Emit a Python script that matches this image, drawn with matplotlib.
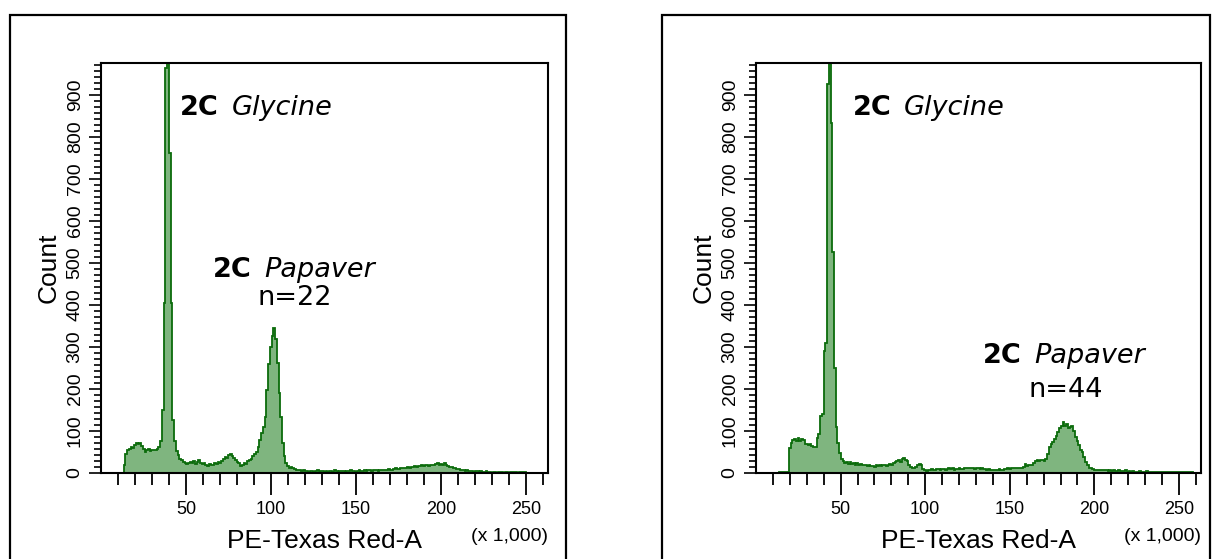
import matplotlib
matplotlib.use("Agg")
import matplotlib.pyplot as plt
import numpy as np
from matplotlib.patches import Rectangle

# histogram: 256 channels over 0..262,144 (axis in x 1,000)
N_BINS = 256
X_MAX = 262.144
Y_MAX = 976

# left sample (Papaver n=22), counts from channel 13 on
left_start = 13
left_counts = [
    20, 45, 55, 58, 62, 60, 66, 72, 70, 72,
    64, 56, 50, 54, 56, 52, 55, 54, 55, 57,
    62, 75, 150, 404, 964, 1320, 762, 404, 125, 75,
    52, 42, 33, 30, 27, 24, 22, 23, 26, 24,
    28, 22, 25, 30, 24, 21, 24, 19, 17, 21,
    18, 20, 24, 22, 26, 24, 28, 34, 38, 36,
    42, 46, 40, 36, 30, 27, 24, 17, 20, 24,
    22, 28, 31, 34, 40, 45, 50, 62, 78, 96,
    110, 134, 198, 260, 300, 325, 344, 318, 262, 190,
    134, 72, 40, 23, 16, 13, 14, 11, 10, 8,
    7, 8, 5, 6, 4, 5, 3, 4, 5, 3,
    4, 6, 3, 4, 5, 3, 4, 3, 5, 4,
    3, 6, 4, 3, 4, 5, 4, 3, 5, 4,
    6, 5, 4, 3, 5, 6, 5, 4, 6, 5,
    7, 6, 5, 8, 6, 7, 5, 6, 8, 7,
    6, 7, 9, 8, 7, 9, 11, 10, 9, 12,
    11, 13, 12, 14, 13, 15, 14, 16, 15, 17,
    16, 18, 17, 19, 18, 17, 20, 19, 18, 22,
    24, 20, 21, 19, 24, 18, 17, 15, 14, 12,
    11, 10, 9, 8, 7, 6, 5, 6, 4, 5,
    4, 3, 5, 4, 3, 4, 3, 3, 4, 3,
    2, 0, 3, 2, 0, 2, 3, 2, 0, 2,
    3, 0, 2, 2, 3, 2, 0, 2, 3, 2,
    2,
]

# right sample (Papaver n=44), counts from channel 13 on
right_start = 13
right_counts = [
    3, 3, 3, 3, 3, 3, 60, 72, 78, 82,
    76, 84, 75, 80, 78, 70, 68, 66, 70, 64,
    62, 62, 84, 92, 136, 140, 290, 310, 925, 1320,
    834, 525, 251, 110, 72, 48, 34, 28, 24, 25,
    22, 26, 21, 24, 20, 23, 19, 21, 20, 18,
    20, 17, 18, 16, 17, 15, 18, 17, 19, 16,
    18, 20, 17, 19, 22, 18, 24, 26, 28, 30,
    27, 33, 35, 30, 28, 20, 14, 12, 13, 15,
    20, 22, 18, 10, 6, 5, 7, 6, 9, 8,
    7, 9, 10, 8, 10, 9, 8, 10, 12, 9,
    11, 8, 10, 9, 11, 10, 9, 12, 11, 13,
    12, 11, 12, 10, 11, 13, 10, 11, 9, 10,
    8, 9, 7, 8, 6, 8, 7, 9, 7, 8,
    10, 9, 11, 10, 12, 11, 13, 12, 11, 13,
    12, 14, 22, 16, 18, 20, 19, 24, 28, 30,
    29, 31, 30, 28, 33, 45, 62, 70, 74, 82,
    88, 98, 106, 112, 121, 113, 117, 106, 110, 113,
    100, 86, 75, 66, 55, 50, 38, 26, 18, 13,
    11, 9, 8, 8, 7, 8, 6, 7, 6, 7,
    5, 6, 5, 6, 4, 5, 6, 4, 5, 4,
    6, 3, 4, 3, 4, 3, 2, 3, 4, 3,
    2, 3, 4, 3, 2, 3, 3, 2, 3, 3,
    2, 3, 3, 2, 3, 2, 3, 3, 2, 3,
    2, 3, 2, 3, 2, 3, 2, 3, 2,
]

x_major = [50, 100, 150, 200, 250]
y_major = [0, 100, 200, 300, 400, 500, 600, 700, 800, 900]

panels = [
    dict(start=left_start, counts=left_counts,
         rect=[101 / 1212, 1 - 473 / 559, 447 / 1212, 410 / 559],
         frame=(10, 566),
         glycine=(46.5, 869), papaver=(66, 483), n_pos=(114, 417), n_text="n=22"),
    dict(start=right_start, counts=right_counts,
         rect=[756 / 1212, 1 - 473 / 559, 445 / 1212, 410 / 559],
         frame=(662, 1210),
         glycine=(57, 869), papaver=(134, 279), n_pos=(183, 198), n_text="n=44"),
]

FILL = "#7fb57f"
EDGE = "#0b6b0b"
TICK_FONT = "Liberation Sans"
NOTE_FONT = "DejaVu Sans"
NOTE_SIZE = 19.5

fig = plt.figure(figsize=(12.12, 5.59), dpi=100)

edges = np.arange(N_BINS + 1) * X_MAX / N_BINS

for p in panels:
    # outer frame around each panel
    x0, x1 = p["frame"]
    fig.add_artist(Rectangle((x0 / 1212, -0.1), (x1 - x0) / 1212, 1.1 - 15 / 559,
                             transform=fig.transFigure, fill=False,
                             edgecolor="black", lw=1.6))

    ax = fig.add_axes(p["rect"])
    counts = np.zeros(N_BINS)
    counts[p["start"]:p["start"] + len(p["counts"])] = p["counts"]
    ax.stairs(counts, edges, fill=True, color=FILL, lw=0)
    ax.stairs(counts, edges, color=EDGE, lw=1.3)

    ax.set_xlim(0, 263)
    ax.set_ylim(0, Y_MAX)
    for s in ax.spines.values():
        s.set_linewidth(1.5)
        s.set_color("black")

    ax.set_xticks(x_major)
    ax.set_xticklabels([str(v) for v in x_major], fontsize=13, family=TICK_FONT)
    ax.set_xticks(np.arange(10, 261, 10), minor=True)
    ax.set_yticks(y_major)
    ax.set_yticklabels([str(v) for v in y_major], fontsize=14, family=TICK_FONT,
                       rotation=90, va="center")
    ax.set_yticks(np.arange(0, Y_MAX, 100 / 7), minor=True)
    ax.tick_params(axis="x", which="major", direction="out", length=16, width=1.3, pad=4)
    ax.tick_params(axis="x", which="minor", direction="out", length=8.5, width=1.3)
    ax.tick_params(axis="y", which="major", direction="out", length=8.5, width=1.2, pad=4)
    ax.tick_params(axis="y", which="minor", direction="out", length=5, width=1.2)

    ax.set_xlabel("PE-Texas Red-A", fontsize=19, family=TICK_FONT, labelpad=8)
    ax.set_ylabel("Count", fontsize=19, family=TICK_FONT, labelpad=4)
    ax.text(1.0, -0.155, "(x 1,000)", transform=ax.transAxes, ha="right", va="center",
            fontsize=14, family=TICK_FONT)

    # peak annotations
    t = ax.text(*p["glycine"], "2C", fontsize=NOTE_SIZE, weight="bold", family=NOTE_FONT,
                ha="left", va="center")
    ax.annotate("Glycine", xy=(1, 0.5), xycoords=t, xytext=(9, 0),
                textcoords="offset points", ha="left", va="center",
                fontsize=NOTE_SIZE, style="italic", family=NOTE_FONT)
    t2 = ax.text(*p["papaver"], "2C", fontsize=NOTE_SIZE, weight="bold", family=NOTE_FONT,
                 ha="left", va="center")
    ax.annotate("Papaver", xy=(1, 0.5), xycoords=t2, xytext=(9, 0),
                textcoords="offset points", ha="left", va="center",
                fontsize=NOTE_SIZE, style="italic", family=NOTE_FONT)
    ax.text(*p["n_pos"], p["n_text"], fontsize=NOTE_SIZE, family=NOTE_FONT,
            ha="center", va="center")

fig.savefig("out.png", dpi=100)
